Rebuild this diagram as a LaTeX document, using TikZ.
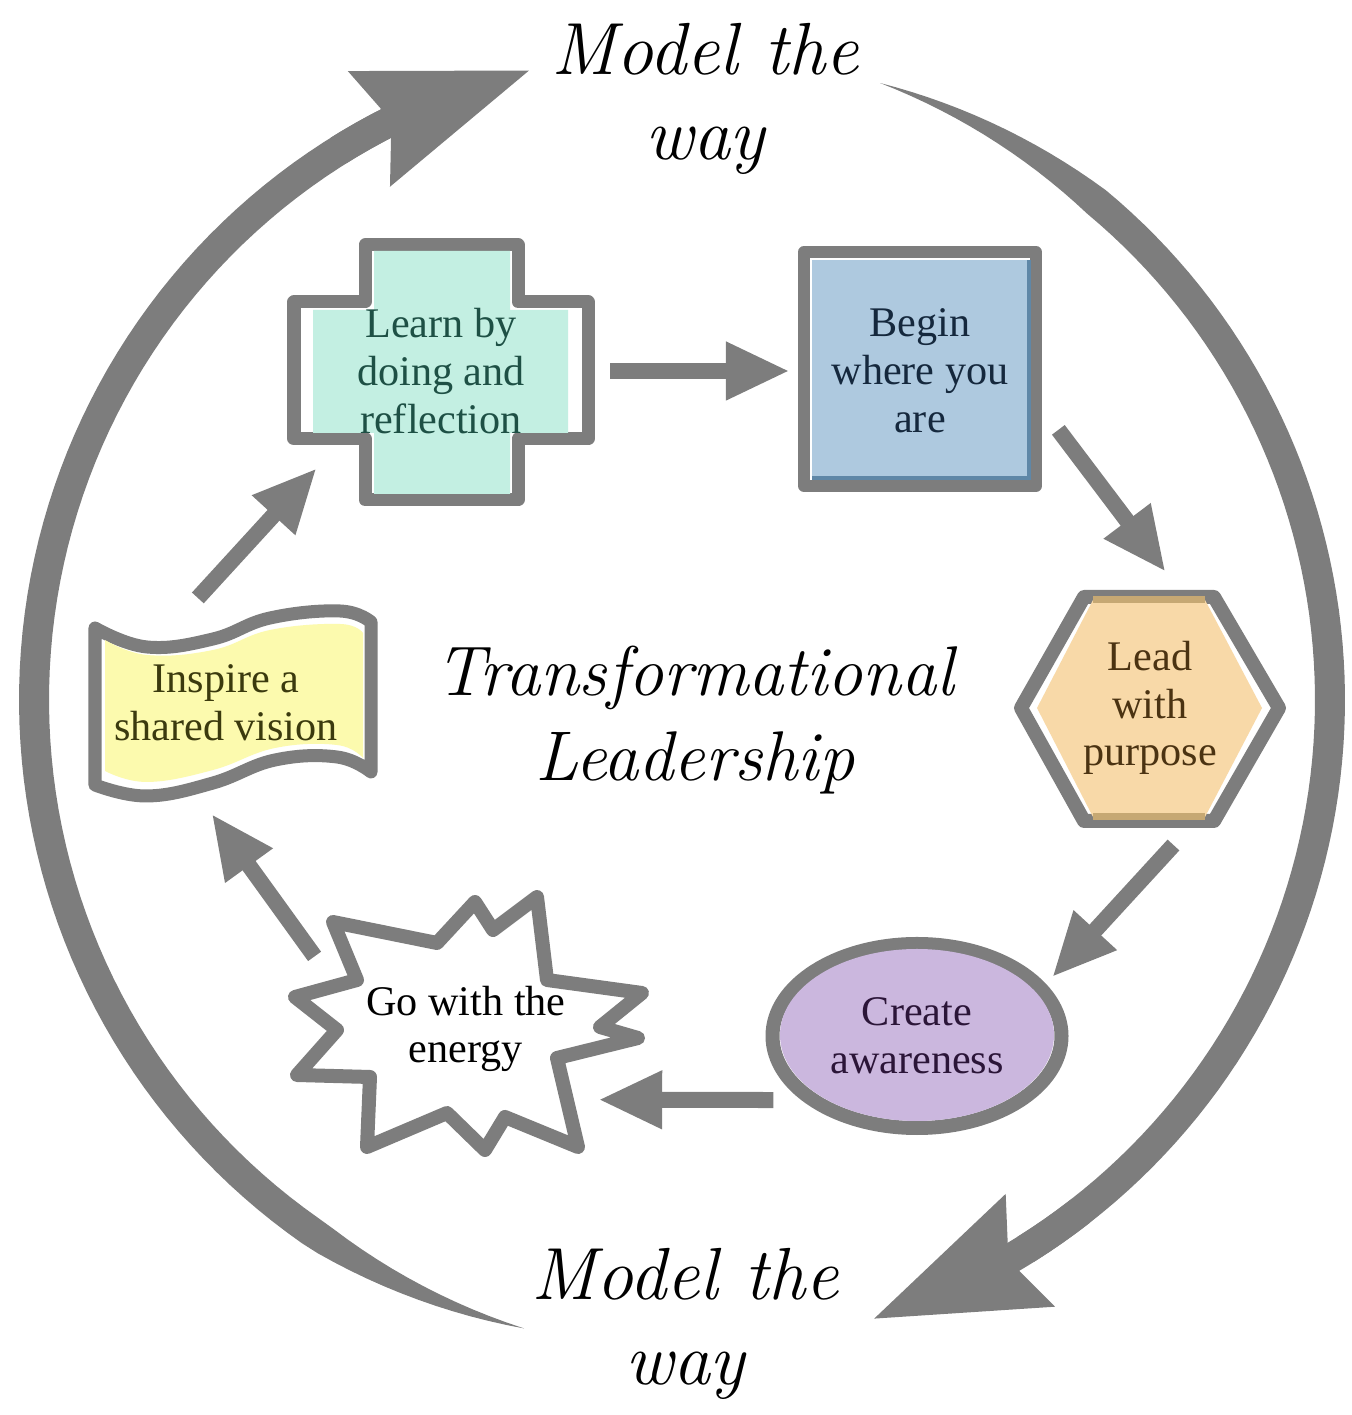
\documentclass[tikz,border=0pt]{standalone}
\usepackage{fontspec}
\newfontfamily\boxfont{Liberation Serif}
\usetikzlibrary{arrows.meta,bending,shapes.geometric}
\definecolor{rimgray}{RGB}{125,125,125}
\definecolor{mint}{HTML}{C3EFE2}
\definecolor{mintink}{HTML}{1E5045}
\definecolor{sky}{HTML}{AEC9DF}
\definecolor{skyedge}{HTML}{5F87A7}
\definecolor{skyink}{HTML}{15283D}
\definecolor{sand}{HTML}{F8D9A8}
\definecolor{sandedge}{HTML}{C6A873}
\definecolor{sandink}{HTML}{4B3312}
\definecolor{lilac}{HTML}{CBB7DE}
\definecolor{lilacink}{HTML}{2B1538}
\definecolor{lemon}{HTML}{FCFAAE}
\definecolor{lemonink}{HTML}{3B3A0E}
\tikzset{
  stage/.style={inner sep=0pt, outer sep=0pt, align=center, font=\boxfont\fontsize{12}{13.6}\selectfont},
  rim/.style={draw=rimgray, line width=0.13cm, line join=round, fill=white},
  flow/.style={draw=rimgray, line width=0.16cm, -{Triangle[length=6.4mm,width=5.4mm]}},
  ringhead/.style={draw=rimgray, line width=0.3cm, -{Stealth[length=16.8mm,width=11.6mm,inset=2mm,flex]}},
  script/.style={align=center, font=\itshape\fontsize{21}{24}\selectfont},
}
\begin{document}
\begin{tikzpicture}[x=0.01cm,y=0.01cm]
\useasboundingbox (0,0) rectangle (1351,1415);
\coordinate (hub) at (682,715);

\fill[rimgray] plot[domain=0:1, samples=90] ({682+(648+15*min(1,142.9*\x/20))*cos(255.9-142.9*\x)}, {715+(648+15*min(1,142.9*\x/20))*sin(255.9-142.9*\x)})
  -- plot[domain=0:1, samples=90] ({682+(648-15*min(1,(142.9-142.9*\x)/20))*cos(113+142.9*\x)}, {715+(648-15*min(1,(142.9-142.9*\x)/20))*sin(113+142.9*\x)}) -- cycle;
\draw[ringhead] ([shift={(122:648)}]hub) arc[start angle=122, end angle=103.5, radius=648];

\fill[rimgray] plot[domain=0:1, samples=90] ({682+(648+15*min(1,130.2*\x/22))*cos(72.2-130.2*\x)}, {715+(648+15*min(1,130.2*\x/22))*sin(72.2-130.2*\x)})
  -- plot[domain=0:1, samples=90] ({682+(648-15*min(1,(130.2-130.2*\x)/22))*cos(-58+130.2*\x)}, {715+(648-15*min(1,(130.2-130.2*\x)/22))*sin(-58+130.2*\x)}) -- cycle;
\draw[ringhead] ([shift={(-52:648)}]hub) arc[start angle=-52, end angle=-72.9, radius=648];

\draw[rim] (365,1170) -- (518,1170) -- (518,1113) -- (588,1113) -- (588,976) -- (518,976) -- (518,915) -- (365,915)
  -- (365,976) -- (294,976) -- (294,1113) -- (365,1113) -- cycle;
\fill[mint] (374,1164) -- (510,1164) -- (510,1105) -- (568,1105) -- (568,982) -- (510,982) -- (510,921) -- (374,921)
  -- (374,982) -- (313,982) -- (313,1105) -- (374,1105) -- cycle;

\draw[rim, line width=0.12cm] (804,1163) rectangle (1036,929);
\fill[sky] (812,1155) rectangle (1031,935);
\draw[skyedge, line width=0.04cm] (1029,1155) -- (1029,937) -- (812,937);

\draw[rim, line width=0.14cm] (1021,707) -- (1084,818) -- (1214,818) -- (1279,707) -- (1214,594) -- (1084,594) -- cycle;
\fill[sand] (1037,707) -- (1093,815) -- (1205,815) -- (1262,707) -- (1205,598) -- (1093,598) -- cycle;
\draw[sandedge, line width=0.07cm] (1093,815) -- (1205,815) (1093,598) -- (1205,598);

\draw[rim, line width=0.14cm] (917,379) ellipse [x radius=144.5, y radius=92];
\fill[lilac] (917,380) ellipse [x radius=137, y radius=86];

\draw[rim, line width=0.14cm] (333,493) -- (437,472) -- (475,513) -- (493,485) -- (537,518) -- (547,435) -- (642,422)
  -- (600,388) -- (638,377) -- (557,357) -- (578,268) -- (505,298) -- (485,265) -- (447,302) -- (367,268)
  -- (370,338) -- (297,340) -- (337,385) -- (295,418) -- (357,435) -- cycle;

\draw[rim] plot[smooth, tension=0.7] coordinates {(95,787) (147,768) (213,776) (270,797) (340,804) (371,793)}
  -- plot[smooth, tension=0.7] coordinates {(371,643) (337,658) (275,655) (213,632) (147,619) (95,630)} -- cycle;
\fill[lemon] plot[smooth, tension=0.7] coordinates {(105,775) (147,760) (213,765) (270,785) (340,791) (363,782)}
  -- plot[smooth, tension=0.7] coordinates {(363,657) (337,670) (275,667) (213,645) (147,633) (105,644)} -- cycle;

\node[stage, shape=ellipse, minimum width=3.38cm, minimum height=2.86cm, text=mintink] (learn) at (441,1044) {Learn by\\doing and\\reflection};
\node[stage, minimum width=2.44cm, minimum height=2.46cm, text=skyink] (begin) at (920,1044) {Begin\\where you\\are};
\node[stage, minimum width=2.75cm, minimum height=2.40cm, text=sandink] (lead) at (1150,707) {Lead\\with\\purpose};
\node[stage, shape=ellipse, minimum width=3.03cm, minimum height=1.98cm, text=lilacink] (aware) at (917,379) {Create\\awareness};
\node[stage, shape=ellipse, minimum width=3.92cm, minimum height=2.09cm] (energy) at (468,393.5) {};
\node[stage] (energytext) at (466,386) {Go with the\\energy};
\node[stage, minimum width=2.76cm, minimum height=2.10cm, text=lemonink] (vision) at (226,712) {Inspire a\\shared vision};

\node[script] (topway) at (705,1316) {Model the\\way};
\node[script] (bottomway) at (685,91) {Model the\\way};
\node[script, font=\itshape\fontsize{20}{24}\selectfont] (title) at (695,695) {Transformational\\Leadership};

\draw[flow, shorten >=0.08cm] (learn.east) -- (begin.west);
\draw[flow, shorten <=0.27cm, shorten >=0.2cm] (begin.-17) -- (lead.77);
\draw[flow, shorten <=0.23cm, shorten >=0.09cm] (lead.-72.4) -- (aware.22);
\draw[flow, shorten <=0.28cm] (aware.209) -- (energy.-31.3);
\draw[flow, shorten >=0.07cm] (energy.157.3) -- (vision.-100);
\draw[flow] (vision.105.4) -- (learn.218.5);
\end{tikzpicture}
\end{document}
